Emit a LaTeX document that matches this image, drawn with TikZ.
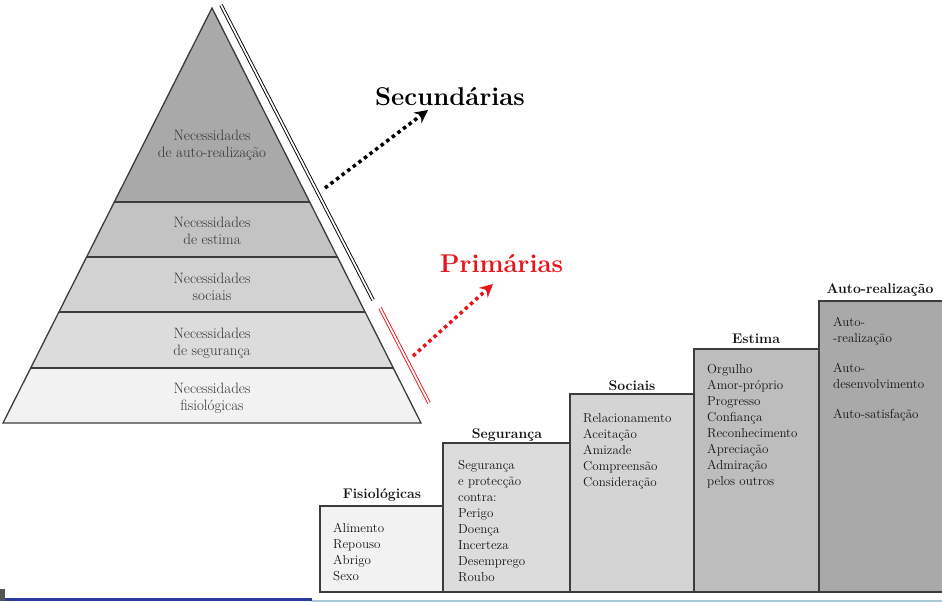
\documentclass[tikz,border=0pt]{standalone}
\usepackage{fontspec}
\usetikzlibrary{arrows.meta,calc}
\definecolor{layA}{HTML}{A9A9A9}
\definecolor{layB}{HTML}{C3C3C3}
\definecolor{layC}{HTML}{D2D2D2}
\definecolor{layD}{HTML}{DCDCDC}
\definecolor{layE}{HTML}{F2F2F2}
\definecolor{stA}{HTML}{F2F2F2}
\definecolor{stB}{HTML}{DCDCDC}
\definecolor{stC}{HTML}{D4D4D4}
\definecolor{stD}{HTML}{BDBDBD}
\definecolor{stE}{HTML}{A9A9A9}
\definecolor{edge}{HTML}{3C3C3C}
\definecolor{pyrtxt}{HTML}{333333}
\definecolor{txtdark}{HTML}{141414}
\definecolor{prired}{HTML}{E8141C}
\definecolor{barblue}{HTML}{2A3C9C}
\definecolor{barlight}{HTML}{A8CAD8}
\definecolor{bargray}{HTML}{555555}
\begin{document}
\begin{tikzpicture}[x=1pt,y=-1pt,
  pyrtext/.style={font=\fontsize{15}{17}\selectfont, text=pyrtxt, align=center, inner sep=0, anchor=north},
  steptitle/.style={font=\bfseries\fontsize{14}{16}\selectfont, text=txtdark, anchor=base, inner sep=0},
  steplist/.style={font=\fontsize{13}{16}\selectfont, text=txtdark, align=left, anchor=north west, inner sep=0},
  stepbox/.style={draw=edge, line width=1.3pt},
  pyrline/.style={draw=edge, line width=1.3pt},
  dotarrow/.style={line width=3.5pt, dash pattern=on 3.5pt off 3.5pt, -{Stealth[length=13pt, width=13pt]}},
  dblline/.style={line width=0.9pt, double=white, double distance=1.8pt},
  bigtitle/.style={font=\bfseries\fontsize{25.7}{30}\selectfont, anchor=base, inner sep=0}
  ]
\useasboundingbox (0,0) rectangle (942,602);
\fill[white] (0,0) rectangle (942,602);

% ---------- pyramid ----------
\coordinate (apex) at (212,8);
\coordinate (bl) at (3,423);
\coordinate (br) at (421,423);
\coordinate (l1) at ($(apex)!0.4675!(bl)$);
\coordinate (r1) at ($(apex)!0.4675!(br)$);
\coordinate (l2) at ($(apex)!0.6!(bl)$);
\coordinate (r2) at ($(apex)!0.6!(br)$);
\coordinate (l3) at ($(apex)!0.7325!(bl)$);
\coordinate (r3) at ($(apex)!0.7325!(br)$);
\coordinate (l4) at ($(apex)!0.8675!(bl)$);
\coordinate (r4) at ($(apex)!0.8675!(br)$);
\fill[layA] (apex) -- (r1) -- (l1) -- cycle;
\fill[layB] (l1) -- (r1) -- (r2) -- (l2) -- cycle;
\fill[layC] (l2) -- (r2) -- (r3) -- (l3) -- cycle;
\fill[layD] (l3) -- (r3) -- (r4) -- (l4) -- cycle;
\fill[layE] (l4) -- (r4) -- (br) -- (bl) -- cycle;
\draw[pyrline] (l1) -- (r1) (l2) -- (r2) (l3) -- (r3) (l4) -- (r4);
\draw[pyrline, line join=miter] (apex) -- (br) -- (bl) -- cycle;

\node[pyrtext] (p1) at (212,129.6) {Necessidades\\de auto-realização};
\node[pyrtext] (p2) at (212,216.6) {Necessidades\\de estima};
\node[pyrtext] (p3) at (212,272.6) {Necessidades\\sociais};
\node[pyrtext] (p4) at (212,327.6) {Necessidades\\de segurança};
\node[pyrtext] (p5) at (212,382.6) {Necessidades\\fisiológicas};

% ---------- double lines ----------
\coordinate (bk1) at (221,5);
\coordinate (bk2) at (373,300);
\coordinate (rd1) at (380,308);
\coordinate (rd2) at (429,403);
\draw[dblline, draw=black] (bk1) -- (bk2);
\draw[dblline, draw=prired] (rd1) -- (rd2);

% ---------- labels and arrows ----------
\node[bigtitle] (sec) at (450,105) {Secundárias};
\node[bigtitle, text=prired] (pri) at (501.5,272) {Primárias};
\coordinate (sa) at (325,188);
\coordinate (sb) at (428,110);
\coordinate (pa) at (413,356);
\coordinate (pb) at (493,284);
\draw[dotarrow, black] (sa) -- (sb);
\draw[dotarrow, prired] (pa) -- (pb);

% ---------- staircase ----------
\draw[stepbox, fill=stA] (320,506) rectangle (443,592);
\draw[stepbox, fill=stB] (443,443) rectangle (570,592);
\draw[stepbox, fill=stC] (570,394) rectangle (694,592);
\draw[stepbox, fill=stD] (694,349) rectangle (819,592);
\draw[stepbox, fill=stE] (819,301) rectangle (943,592);

\node[steptitle] (t1) at (382,498) {Fisiológicas};
\node[steptitle] (t2) at (507,438) {Segurança};
\node[steptitle] (t3) at (632,390) {Sociais};
\node[steptitle] (t4) at (756,343) {Estima};
\node[steptitle] (t5) at (880,293) {Auto-realização};

\node[steplist] (s1) at (333,523) {Alimento\\Repouso\\Abrigo\\Sexo};
\node[steplist] (s2) at (458,460.1) {Segurança\\e protecção\\contra:\\Perigo\\Doença\\Incerteza\\Desemprego\\Roubo};
\node[steplist] (s3) at (583,413) {Relacionamento\\Aceitação\\Amizade\\Compreensão\\Consideração};
\node[steplist] (s4) at (707,364) {Orgulho\\Amor-próprio\\Progresso\\Confiança\\Reconhecimento\\Apreciação\\Admiração\\pelos outros};
\node[steplist] (s5) at (833,317.1) {Auto-\\-realização\\[14pt]Auto-\\desenvolvimento\\[14pt]Auto-satisfação};

% ---------- bottom bars ----------
\fill[barlight] (311,600.3) rectangle (942,602);
\fill[barblue] (0,597.7) rectangle (311.5,601);
\fill[bargray] (0,589) rectangle (5,601);
\end{tikzpicture}
\end{document}
